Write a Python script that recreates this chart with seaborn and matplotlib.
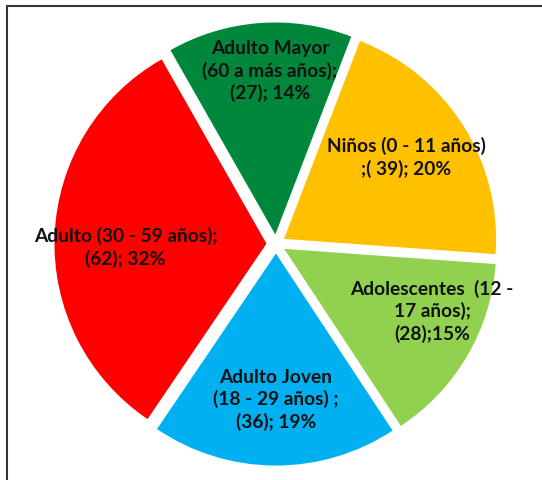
import matplotlib.pyplot as plt
import seaborn as sns
import numpy as np
from matplotlib.lines import Line2D

# Data
grupos = ["Niños (0 - 11 años)\n;( 39); 20%",
          "Adolescentes  (12 -\n17 años);\n(28);15%",
          "Adulto Joven\n(18 - 29 años) ;\n(36); 19%",
          "Adulto (30 - 59 años);\n(62); 32%",
          "Adulto Mayor\n(60 a más años);\n(27); 14%"]
valores = [39, 28, 36, 62, 27]
colores = ["#FFC000", "#92D050", "#00B0F0", "#FF0000", "#00873C"]

# label anchor (angle in degrees, distance as fraction of radius)
label_pos = [(34, 0.74), (-23, 0.80), (-90, 0.73), (181, 0.71), (92, 0.82)]

sns.set_theme(style="white")
plt.rcParams["font.family"] = ["Lato", "DejaVu Sans"]

W, H = 542, 481
cx, cy = 276, 245   # pie centre in pixels (from top-left)
R = 212             # radius in pixels

fig = plt.figure(figsize=(W / 100, H / 100), dpi=100)
ax = fig.add_axes([0, 0, 1, 1])

ax.pie(valores, colors=colores, startangle=69, counterclock=False,
       explode=[0.045] * len(valores), radius=1,
       wedgeprops=dict(linewidth=0))

# pie() resets the limits, so set them afterwards
ax.set_xlim(-cx / R, (W - cx) / R)
ax.set_ylim(-(H - cy) / R, cy / R)
ax.set_aspect("equal")
ax.axis("off")

for txt, (ang, d) in zip(grupos, label_pos):
    a = np.deg2rad(ang)
    ax.text(d * np.cos(a), d * np.sin(a), txt, ha="center", va="center",
            fontsize=13.8, fontweight="bold", color="#111111",
            linespacing=1.3)

# chart frame (cropped on the right and bottom)
fig.add_artist(Line2D([6.5 / W, 6.5 / W], [0, 1 - 7 / H], color="#333333", lw=1.5))
fig.add_artist(Line2D([6.5 / W, 1], [1 - 7 / H, 1 - 7 / H], color="#333333", lw=1.5))

fig.savefig("out.png", dpi=100)
